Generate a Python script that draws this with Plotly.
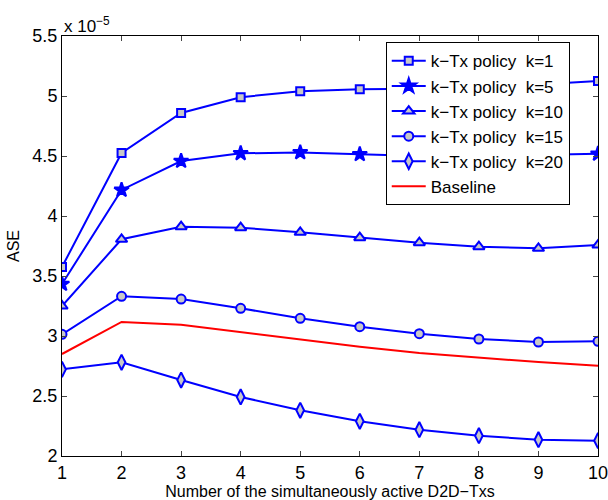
import plotly.graph_objects as go

x_vals = [1, 2, 3, 4, 5, 6, 7, 8, 9, 10]
k1 = [3.575, 4.525, 4.858, 4.99, 5.04, 5.056, 5.06, 5.075, 5.095, 5.125]
k5 = [3.433, 4.217, 4.458, 4.522, 4.53, 4.514, 4.50, 4.50, 4.51, 4.518]
k10 = [3.25, 3.806, 3.911, 3.903, 3.864, 3.819, 3.778, 3.744, 3.731, 3.758]
k15 = [3.014, 3.331, 3.308, 3.231, 3.147, 3.078, 3.019, 2.975, 2.95, 2.956]
k20 = [2.722, 2.781, 2.633, 2.492, 2.381, 2.289, 2.219, 2.169, 2.136, 2.128]
baseline = [2.85, 3.117, 3.094, 3.033, 2.967, 2.911, 2.858, 2.819, 2.783, 2.753]
y_ticks = [2, 2.5, 3, 3.5, 4, 4.5, 5, 5.5]
y_tick_labels = ["2", "2.5", "3", "3.5", "4", "4.5", "5", "5.5"]

BLUE = "#0000ff"
FILL = "#c8c8c8"
FONT = "Liberation Sans, Arial, sans-serif"
SP = "\u00a0\u00a0"

fig = go.Figure()
series = [
    ("k\u2212Tx policy" + SP + "k=1", k1, "square", 8, FILL),
    ("k\u2212Tx policy" + SP + "k=5", k5, "star", 11, BLUE),
    ("k\u2212Tx policy" + SP + "k=10", k10, "triangle-up", 10, FILL),
    ("k\u2212Tx policy" + SP + "k=15", k15, "circle", 9, FILL),
    ("k\u2212Tx policy" + SP + "k=20", k20, "diamond-tall", 11, FILL),
]
for name, ys, sym, size, fill in series:
    fig.add_trace(go.Scatter(
        x=x_vals, y=ys, name=name, mode="lines+markers",
        line=dict(color=BLUE, width=2),
        marker=dict(symbol=sym, size=size, color=fill,
                    line=dict(color=BLUE, width=2)),
    ))
fig.add_trace(go.Scatter(
    x=x_vals, y=baseline, name="Baseline", mode="lines",
    line=dict(color="#ff0000", width=2),
))

fig.update_layout(
    width=608, height=500,
    margin=dict(l=62, r=10, t=36, b=44, autoexpand=False),
    paper_bgcolor="white", plot_bgcolor="white",
    font=dict(family=FONT, size=16, color="black"),
    showlegend=True,
    legend=dict(
        x=0.604, y=0.985, xanchor="left", yanchor="top",
        bgcolor="white", bordercolor="black", borderwidth=1,
        font=dict(family=FONT, size=17, color="black"),
        tracegroupgap=0, itemwidth=34,
    ),
    xaxis=dict(
        range=[1, 10], tickvals=x_vals, ticks="inside", ticklen=5,
        showline=True, linecolor="black", linewidth=1, mirror="ticks",
        showgrid=False, zeroline=False, automargin=False,
        ticklabeloverflow="allow",
        tickfont=dict(size=18),
        title=dict(text="Number of the simultaneously active D2D\u2212Txs",
                   font=dict(size=16), standoff=4),
    ),
    yaxis=dict(
        range=[2, 5.5], tickvals=y_ticks, ticktext=y_tick_labels,
        ticks="inside", ticklen=5,
        showline=True, linecolor="black", linewidth=1, mirror="ticks",
        showgrid=False, zeroline=False, automargin=False,
        ticklabeloverflow="allow",
        tickfont=dict(size=18),
        title=dict(text="ASE", font=dict(size=16), standoff=8),
    ),
    annotations=[dict(
        text="x 10<sup>\u22125</sup>", xref="paper", yref="paper",
        x=0, y=1, xanchor="left", yanchor="bottom", showarrow=False,
        font=dict(family=FONT, size=17, color="black"), yshift=-2,
    )],
)

fig.write_html("out.html")
